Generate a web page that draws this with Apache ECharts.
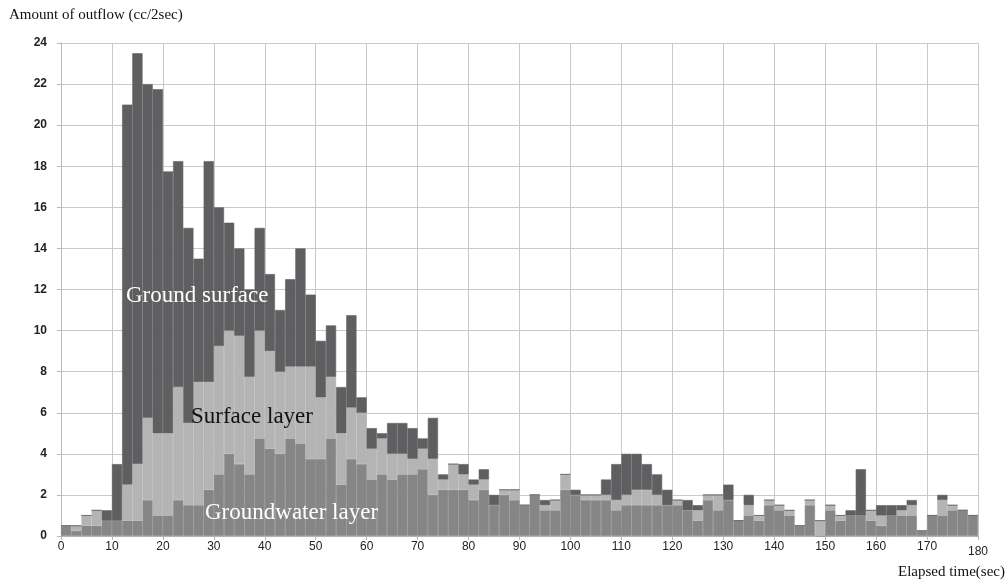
<!DOCTYPE html>
<html>
<head>
<meta charset="utf-8">
<script src="https://cdn.jsdelivr.net/npm/echarts@6/dist/echarts.min.js"></script>
<style>html,body{margin:0;padding:0;background:#fff}#c{width:1008px;height:583px}</style>
</head>
<body>
<div id="c"></div>
<script>
// bin start times (sec), 2-sec bins
var binStarts = [];
for (var t = 0; t < 180; t += 2) binStarts.push(t);

// layer values (cc/2sec)
var groundwater = [0.5,0.25,0.5,0.5,0.75,0.75,0.75,0.75,1.75,1,1,1.75,1.5,1.5,2.25,3,4,3.5,3,4.75,4.25,4,4.75,4.5,3.75,3.75,4.75,2.5,3.75,3.5,2.75,3,2.75,3,3,3.25,2,2.25,2.25,2.25,1.75,2.25,1.5,2,1.75,1.5,2,1.25,1.25,2.25,2,1.75,1.75,1.75,1.25,1.5,1.5,1.5,1.5,1.5,1.5,1.25,0.75,1.75,1.25,1.75,0.75,1,0.75,1.5,1.25,1,0.5,1.5,0,1.25,0.75,1,1,0.75,0.5,1,1,1,0.25,1,1,1.25,1.25,1];
var surfaceLayer = [0,0.25,0.5,0.75,0,0,1.75,2.75,4,4,4,5.5,4,6,5.25,6.25,6,6.25,4.75,5.25,4.75,4,3.5,3.75,4.5,3,3,2.5,2.5,2.5,1.5,1.75,1.25,1,0.75,1,1.75,0.5,1.25,0.75,0.75,0.5,0,0.25,0.5,0,0,0.25,0.5,0.75,0,0.25,0.25,0.25,0.5,0.5,0.75,0.75,0.5,0,0.25,0,0.5,0.25,0.75,0,0,0.5,0.25,0.25,0.25,0.25,0,0.25,0.75,0.25,0.25,0,0,0.5,0.5,0,0.25,0.5,0,0,0.75,0.25,0,0];
var groundSurface = [0,0,0,0,0.5,2.75,18.5,20,16.25,16.75,12.75,11,9.5,6,10.75,6.75,5.25,4.25,4.25,5,3.75,3,4.25,5.75,3.5,2.75,2.5,2.25,4.5,0.75,1,0.25,1.5,1.5,1.5,0.5,2,0.25,0,0.5,0.25,0.5,0.5,0,0,0,0,0.25,0,0,0.25,0,0,0.75,1.75,2,1.75,1.25,1,0.75,0,0.5,0.25,0,0,0.75,0,0.5,0,0,0,0,0,0,0,0,0,0.25,2.25,0,0.5,0.5,0.25,0.25,0,0,0.25,0,0,0];

var xTicks = [0,10,20,30,40,50,60,70,80,90,100,110,120,130,140,150,160,170,180];
var yTicks = [0,2,4,6,8,10,12,14,16,18,20,22,24];

var chart = echarts.init(document.getElementById('c'), null, {renderer: 'canvas'});
var serif = '"Liberation Serif","DejaVu Serif",serif';
var sans = '"Liberation Sans",Arial,sans-serif';

var colGW = '#868686', colSL = '#b4b4b4', colGS = '#5f5f61';

var option = {
  animation: false,
  backgroundColor: '#fff',
  grid: {left: 61, right: 30, top: 43, bottom: 47},
  xAxis: [
    {type: 'category', data: binStarts, show: false, boundaryGap: true},
    {
      type: 'value', min: xTicks[0], max: xTicks[xTicks.length - 1], interval: 10,
      position: 'bottom',
      axisLine: {show: true, lineStyle: {color: '#b8b8b8', width: 1}},
      axisTick: {show: true, length: 4, lineStyle: {color: '#b8b8b8'}},
      splitLine: {show: true, lineStyle: {color: '#c9c9c9', width: 1}},
      axisLabel: {
        margin: 5, color: '#222', fontFamily: sans, fontSize: 12,
        formatter: function (v) { return v === 180 ? '{low|180}' : String(v); },
        rich: {low: {padding: [5, 0, 0, 0], color: '#222', fontFamily: sans, fontSize: 12}}
      }
    }
  ],
  yAxis: {
    type: 'value', min: yTicks[0], max: yTicks[yTicks.length - 1], interval: 2,
    axisLine: {show: true, lineStyle: {color: '#b8b8b8', width: 1}},
    axisTick: {show: true, length: 4, lineStyle: {color: '#b8b8b8'}},
    splitLine: {show: true, lineStyle: {color: '#c9c9c9', width: 1}},
    axisLabel: {margin: 14, color: '#222', fontFamily: sans, fontSize: 12, fontWeight: 'bold'}
  },
  series: [
    {name: 'Groundwater layer', type: 'bar', stack: 'flow', xAxisIndex: 0, data: groundwater,
      barCategoryGap: '0%', itemStyle: {color: colGW, borderColor: colGW, borderWidth: 0.6}},
    {name: 'Surface layer', type: 'bar', stack: 'flow', xAxisIndex: 0, data: surfaceLayer,
      barCategoryGap: '0%', itemStyle: {color: colSL, borderColor: colSL, borderWidth: 0.6}},
    {name: 'Ground surface', type: 'bar', stack: 'flow', xAxisIndex: 0, data: groundSurface,
      barCategoryGap: '0%', itemStyle: {color: colGS, borderColor: colGS, borderWidth: 0.6}}
  ],
  graphic: [
    {type: 'text', z: 100, left: 9, top: 8, style: {text: 'Amount of outflow (cc/2sec)', font: '15px ' + serif, fill: '#111'}},
    {type: 'text', z: 100, right: 3, top: 565, style: {text: 'Elapsed time(sec)', font: '15px ' + serif, fill: '#111'}},
    {type: 'text', z: 100, left: 126, top: 284, style: {text: 'Ground surface', font: '23px ' + serif, fill: '#fff'}},
    {type: 'text', z: 100, left: 191, top: 405, style: {text: 'Surface layer', font: '23px ' + serif, fill: '#111'}},
    {type: 'text', z: 100, left: 205, top: 501, style: {text: 'Groundwater layer', font: '23px ' + serif, fill: '#fff'}}
  ]
};
chart.setOption(option);
</script>
</body>
</html>
